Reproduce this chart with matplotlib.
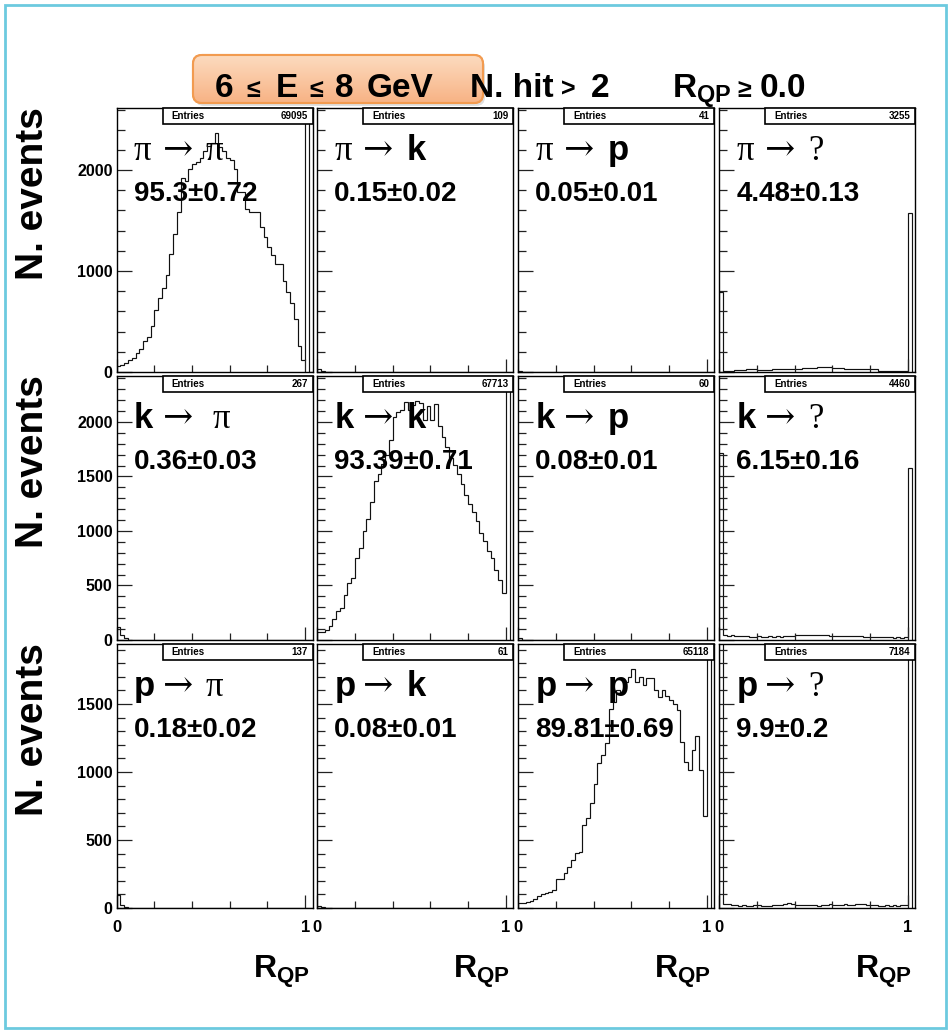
import numpy as np
import matplotlib
matplotlib.use('Agg')
import matplotlib.pyplot as plt
from matplotlib.patches import FancyBboxPatch, Rectangle
from matplotlib.ticker import MultipleLocator, FixedLocator

plt.rcParams['font.family'] = ['Liberation Sans', 'DejaVu Sans']
plt.rcParams['font.weight'] = 'bold'
plt.rcParams['mathtext.fontset'] = 'custom'
plt.rcParams['mathtext.rm'] = 'Liberation Sans:bold'
plt.rcParams['mathtext.bf'] = 'Liberation Sans:bold'

# R_QP binning: 52 bins of 0.02 between 0 and 1.04
edges = np.round(np.arange(0, 1.0401, 0.02), 2)

# true pi
pi_pi = [59, 69, 92, 119, 139, 185, 231, 310, 343, 455, 610, 736, 828, 957, 1168, 1370, 1587, 1924, 1894, 2010,
         2056, 2076, 2115, 2188, 2241, 2264, 2369, 2231, 2191, 2122, 2099, 2006, 1785, 1785, 1614, 1587, 1587, 1587, 1432, 1333,
         1234, 1158, 1066, 1066, 904, 789, 686, 521, 257, 119, 12000, 0]
pi_k = [33, 8, 4, 2, 2, 1, 2, 1, 1, 2, 1, 1, 2, 1, 1, 1, 2, 1, 1, 1, 2, 1, 1, 1, 1, 2, 1, 1, 1, 1,
        2, 1, 1, 1, 1, 1, 2, 1, 1, 1, 1, 1, 1, 2, 1, 1, 1, 1, 1, 2, 0, 0]
pi_p = [12, 3, 1, 1, 0, 1, 1, 0, 1, 0, 1, 1, 0, 1, 0, 1, 0, 1, 1, 0, 1, 0, 1, 0, 1, 0, 1, 1, 0, 1,
        0, 1, 0, 1, 0, 1, 0, 1, 0, 1, 0, 1, 0, 0, 1, 0, 1, 0, 0, 1, 0, 0]
pi_x = [790, 12, 14, 13, 19, 21, 20, 25, 27, 26, 21, 19, 22, 20, 31, 34, 33, 30, 27, 25,
        26, 28, 41, 44, 43, 42, 46, 48, 45, 46, 37, 35, 36, 34, 27, 25, 26, 33, 32, 34,
        26, 27, 8, 6, 7, 8, 6, 7, 8, 7, 1574, 0]

# true k
k_pi = [122, 46, 18, 3, 2, 2, 1, 2, 1, 1, 2, 1, 1, 1, 2, 1, 1, 1, 1, 2, 1, 1, 1, 1, 1, 2, 1, 1, 1, 1,
        2, 1, 1, 1, 1, 1, 1, 2, 1, 1, 1, 1, 1, 1, 2, 1, 1, 1, 1, 2, 0, 0]
k_k = [74, 74, 90, 130, 192, 269, 290, 414, 522, 569, 754, 847, 1001, 1109, 1264, 1458, 1520, 1619, 1696, 1835,
       2042, 2089, 2114, 2182, 2114, 2160, 2191, 2175, 2021, 2144, 2021, 2169, 1959, 1866, 1774, 1666, 1604, 1526, 1434, 1326,
       1248, 1171, 1094, 986, 908, 816, 754, 646, 553, 430, 9000, 0]
k_p = [15, 3, 2, 1, 1, 1, 0, 1, 1, 0, 1, 1, 0, 1, 1, 0, 1, 1, 0, 1, 0, 1, 1, 0, 1, 0, 1, 1, 0, 1,
       0, 1, 1, 0, 1, 0, 1, 0, 1, 1, 0, 1, 0, 1, 0, 1, 0, 1, 1, 0, 0, 0]
k_x = [1716, 45, 40, 42, 38, 35, 36, 34, 30, 32, 35, 30, 28, 33, 30, 34, 31, 35, 38, 40,
       42, 45, 48, 46, 50, 47, 44, 42, 45, 40, 38, 41, 37, 35, 38, 33, 36, 34, 30, 32,
       28, 31, 27, 25, 28, 24, 22, 25, 20, 28, 1578, 0]

# true p
p_pi = [96, 20, 5, 1, 1, 0, 1, 0, 1, 0, 1, 0, 1, 0, 0, 1, 0, 1, 0, 0, 1, 0, 1, 0, 0, 1, 0, 0, 1, 0,
        1, 0, 0, 1, 0, 0, 1, 0, 0, 1, 0, 0, 1, 0, 0, 1, 0, 0, 1, 0, 0, 0]
p_k = [18, 4, 2, 1, 1, 1, 1, 0, 1, 1, 0, 1, 1, 0, 1, 0, 1, 1, 0, 1, 0, 1, 0, 1, 1, 0, 1, 0, 1, 0,
       1, 1, 0, 1, 0, 1, 0, 1, 0, 1, 1, 0, 1, 0, 1, 0, 1, 0, 1, 1, 0, 0]
p_p = [34, 34, 46, 54, 64, 88, 100, 108, 120, 132, 211, 211, 255, 304, 353, 402, 414, 610, 659, 770,
       911, 1064, 1125, 1211, 1463, 1515, 1603, 1590, 1660, 1700, 1755, 1664, 1701, 1640, 1691, 1691, 1603, 1554, 1600, 1556,
       1529, 1500, 1456, 1223, 1076, 1015, 1162, 1265, 1015, 676, 9000, 0]
p_x = [3000, 30, 28, 22, 20, 18, 20, 17, 18, 20, 22, 18, 16, 18, 20, 22, 25, 30, 35, 28,
       25, 22, 20, 22, 24, 20, 18, 22, 25, 28, 24, 20, 22, 26, 24, 22, 28, 30, 26, 22,
       20, 24, 18, 16, 20, 18, 22, 15, 20, 25, 3400, 0]

hists = [[pi_pi, pi_k, pi_p, pi_x],
         [k_pi, k_k, k_p, k_x],
         [p_pi, p_k, p_p, p_x]]

entries = [[69095, 109, 41, 3255],
           [267, 67713, 60, 4460],
           [137, 61, 65118, 7184]]

fractions = [['95.3±0.72', '0.15±0.02', '0.05±0.01', '4.48±0.13'],
             ['0.36±0.03', '93.39±0.71', '0.08±0.01', '6.15±0.16'],
             ['0.18±0.02', '0.08±0.01', '89.81±0.69', '9.9±0.2']]

true_names = ['π', 'k', 'p']
reco_names = ['π', 'k', 'p', '?']

# title pieces (ROOT TLatex spacing), symbols come out smaller
title_parts = [('6', 215), ('≤', 246), ('E', 276), ('≤', 309), ('8', 335), ('GeV', 367),
               ('N. hit', 470), ('>', 561), ('2', 591),
               (r'R$_{\mathrm{QP}}$', 672), ('≥', 737), ('0.0', 760)]

y_max = [2615, 2422, 1941]
y_major = [1000, 500, 500]
y_minor = [200, 100, 100]

W, H = 951, 1033
col_left = [116.7, 317.3, 518.3, 719.3]
col_w = 196
row_top = [108, 376, 644]
row_h = 264

serif = ['Liberation Serif', 'DejaVu Serif']
sans = ['Liberation Sans', 'DejaVu Sans']


def particle(ax, x, y, name):
    # ROOT draws greek letters / "?" with the symbol font, k and p in bold helvetica
    if name in ('π', '?'):
        ax.text(x, y, name, transform=ax.transAxes, family=serif, weight='normal',
                fontsize=25, va='baseline', ha='left', zorder=6)
    else:
        ax.text(x, y, name, transform=ax.transAxes, family=sans, weight='bold',
                fontsize=25, va='baseline', ha='left', zorder=6)


fig = plt.figure(figsize=(W / 100, H / 100), dpi=100)
fig.patch.set_facecolor('white')

for r in range(3):
    for c in range(4):
        ax = fig.add_axes([col_left[c] / W, 1 - (row_top[r] + row_h) / H, col_w / W, row_h / H])
        ax.stairs(hists[r][c], edges, color='#111111', lw=0.85)
        ax.set_xlim(0, 1.04)
        ax.set_ylim(0, y_max[r])

        ax.xaxis.set_major_locator(FixedLocator([0, 1]))
        ax.xaxis.set_minor_locator(MultipleLocator(0.2))
        ax.yaxis.set_major_locator(MultipleLocator(y_major[r]))
        ax.yaxis.set_minor_locator(MultipleLocator(y_minor[r]))
        ax.tick_params(which='both', direction='in', top=False, right=False, width=0.9, color='#222222')
        ax.tick_params(axis='y', which='major', length=10.8)
        ax.tick_params(axis='y', which='minor', length=5.4)
        ax.tick_params(axis='x', which='major', length=9.5)
        ax.tick_params(axis='x', which='minor', length=5)
        ax.tick_params(axis='y', labelsize=11.5, pad=3)
        ax.tick_params(axis='x', labelsize=12, pad=9)
        for lab in ax.get_xticklabels() + ax.get_yticklabels():
            lab.set_fontweight('bold')
        ax.set_xticklabels(['0', '1'])
        if c > 0:
            ax.tick_params(labelleft=False)
        if r < 2:
            ax.tick_params(labelbottom=False)
        for sp in ax.spines.values():
            sp.set_linewidth(1.0)

        # stat box
        bx0 = 0.235
        bh = 16 / row_h
        ax.add_patch(Rectangle((bx0, 1 - bh), 1 - bx0, bh, transform=ax.transAxes, fc='white',
                               ec='black', lw=1.2, zorder=5, clip_on=False))
        ax.text(bx0 + 9 / col_w, 1 - bh / 2, 'Entries', transform=ax.transAxes, fontsize=7,
                weight='bold', va='center', ha='left', zorder=6)
        ax.text(1 - 5 / col_w, 1 - bh / 2, str(entries[r][c]), transform=ax.transAxes, fontsize=7,
                weight='bold', va='center', ha='right', zorder=6)

        # transition label and fraction
        yl = 1 - 52 / row_h
        particle(ax, 17 / col_w, yl, true_names[r])
        ax.text(46 / col_w, yl, '→', transform=ax.transAxes, family=['DejaVu Serif'], weight='normal',
                fontsize=26, va='baseline', ha='left', zorder=6)
        x2 = 96 if (r == 1 and c == 0) else 89
        particle(ax, x2 / col_w, yl, reco_names[c])
        ax.text(17 / col_w, 1 - 93 / row_h, fractions[r][c], transform=ax.transAxes, family=sans,
                weight='bold', fontsize=20, va='baseline', ha='left', zorder=6)

# overlay in pixel coordinates for the free text and the slide decorations
ov = fig.add_axes([0, 0, 1, 1], zorder=10)
ov.set_xlim(0, W)
ov.set_ylim(H, 0)
ov.axis('off')
ov.patch.set_visible(False)

ov.add_patch(Rectangle((5, 5), W - 10, H - 10, fill=False, ec='#6ccadf', lw=2))

# highlighted energy range box
shadow = FancyBboxPatch((195, 58), 290, 48, boxstyle='round,pad=0,rounding_size=9',
                        fc=(0, 0, 0, 0.12), ec='none')
ov.add_patch(shadow)
box = FancyBboxPatch((193, 55), 290, 48, boxstyle='round,pad=0,rounding_size=9',
                     fc='#fac8a0', ec='#f29b50', lw=1.5)
ov.add_patch(box)
grad = np.linspace(0, 1, 64)[:, None, None]
top_c = np.array([0.99, 0.86, 0.75])
bot_c = np.array([0.97, 0.70, 0.52])
img = top_c * (1 - grad) + bot_c * grad
im = ov.imshow(img, extent=(193, 483, 103, 55), origin='upper', aspect='auto', zorder=2)
im.set_clip_path(box)
ov.add_patch(FancyBboxPatch((193, 55), 290, 48, boxstyle='round,pad=0,rounding_size=9',
                            fc='none', ec='#f29b50', lw=1.5, zorder=3))
ov.set_xlim(0, W)
ov.set_ylim(H, 0)

for txt, x in title_parts:
    fs = 18 if txt in ('≤', '≥', '>') else 24
    ov.text(x, 97, txt, fontsize=fs, weight='bold', ha='left', va='baseline', zorder=4)

for r in range(3):
    ov.text(33, row_top[r] - 1, 'N. events', fontsize=28, weight='bold', rotation=90,
            ha='center', va='top')

for c in range(4):
    ov.text(col_left[c] + col_w - 3, 978, r'R$_{\mathrm{QP}}$', fontsize=23, weight='bold',
            ha='right', va='baseline')

fig.savefig('out.png', dpi=100)
